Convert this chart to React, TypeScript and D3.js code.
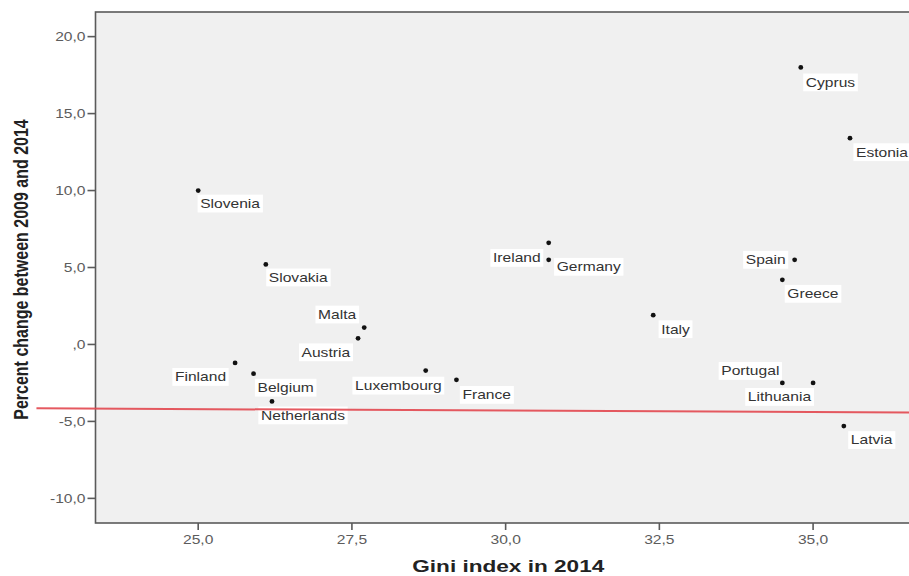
import React, { useEffect, useRef } from "react";
import * as d3 from "d3";

// Countries, Gini index in 2014 and percent change between 2009 and 2014
const countries = [
  "Slovenia", "Slovakia", "Malta", "Austria", "Finland", "Belgium", "Netherlands",
  "Luxembourg", "France", "Ireland", "Germany", "Italy", "Cyprus", "Estonia",
  "Spain", "Greece", "Portugal", "Lithuania", "Latvia",
];
const gini2014 = [
  25.0, 26.1, 27.7, 27.6, 25.6, 25.9, 26.2,
  28.7, 29.2, 30.7, 30.7, 32.4, 34.8, 35.6,
  34.7, 34.5, 34.5, 35.0, 35.5,
];
const pctChange = [
  10.0, 5.2, 1.1, 0.4, -1.2, -1.9, -3.7,
  -1.7, -2.3, 6.6, 5.5, 1.9, 18.0, 13.4,
  5.5, 4.2, -2.5, -2.5, -5.3,
];

// Axis ticks
const xTicks = [25, 27.5, 30, 32.5, 35];
const yTicks = [20, 15, 10, 5, 0, -5, -10];

// Red reference line end points (x in Gini units, y in percent)
const refLineX = [22.37, 36.56];
const refLineY = [-4.15, -4.42];

// Label placement relative to each point: anchor, horizontal and vertical offsets
const labelPlacement: Record<string, [string, number, number]> = {
  Slovenia: ["start", 2, 13],
  Slovakia: ["start", 3, 13],
  Malta: ["end", -8, -13],
  Austria: ["end", -8, 14],
  Finland: ["end", -9, 14],
  Belgium: ["start", 4, 14],
  Netherlands: ["start", -11, 14],
  Luxembourg: ["end", 16, 15],
  France: ["start", 6, 15],
  Ireland: ["end", -8, 15],
  Germany: ["start", 8, 7],
  Italy: ["start", 8, 14],
  Cyprus: ["start", 5, 15],
  Estonia: ["start", 6, 14],
  Spain: ["end", -9, 0],
  Greece: ["start", 5, 14],
  Portugal: ["end", -3, -12],
  Lithuania: ["end", -2, 14],
  Latvia: ["start", 7, 14],
};

const W = 909;
const H = 576;
const plot = { left: 95.5, right: 925, top: 12, bottom: 523 };
const STRETCH = 1.3;
const FONT = "'Liberation Sans', Arial, sans-serif";

// Comma decimal, plain hyphen for negatives, no leading zero for 0
const fmt = (v: number) => {
  const s = d3.format(".1f")(v).replace("\u2212", "-").replace(".", ",");
  return s.replace(/^(-?)0,/, "$1,");
};

export default function App() {
  const ref = useRef<SVGSVGElement | null>(null);

  useEffect(() => {
    const svg = d3.select(ref.current);
    svg.selectAll("*").remove();

    const x = d3.scaleLinear().domain([23.33, 36.82]).range([plot.left, plot.right]);
    const y = d3.scaleLinear().domain([-11.6, 21.6]).range([plot.bottom, plot.top]);

    svg.append("rect").attr("width", W).attr("height", H).attr("fill", "#ffffff");

    svg.append("rect")
      .attr("x", plot.left).attr("y", plot.top)
      .attr("width", plot.right - plot.left).attr("height", plot.bottom - plot.top)
      .attr("fill", "#f0f0f0")
      .attr("stroke", "#5a5a5a").attr("stroke-width", 1.6);

    // Y axis ticks and labels
    const yAxis = svg.append("g");
    yTicks.forEach((t) => {
      const yy = y(t);
      yAxis.append("line")
        .attr("x1", plot.left - 8).attr("x2", plot.left)
        .attr("y1", yy).attr("y2", yy)
        .attr("stroke", "#5a5a5a").attr("stroke-width", 1.6);
      yAxis.append("text")
        .attr("transform", `translate(${plot.left - 10},${yy}) scale(${STRETCH},1)`)
        .attr("text-anchor", "end").attr("dominant-baseline", "central")
        .attr("font-family", FONT).attr("font-size", 12).attr("fill", "#5c5c5c")
        .text(fmt(t));
    });

    // X axis ticks and labels
    const xAxis = svg.append("g");
    xTicks.forEach((t) => {
      const xx = x(t);
      xAxis.append("line")
        .attr("x1", xx).attr("x2", xx)
        .attr("y1", plot.bottom).attr("y2", plot.bottom + 7)
        .attr("stroke", "#5a5a5a").attr("stroke-width", 1.6);
      xAxis.append("text")
        .attr("transform", `translate(${xx},${plot.bottom + 17}) scale(${STRETCH},1)`)
        .attr("text-anchor", "middle").attr("dominant-baseline", "central")
        .attr("font-family", FONT).attr("font-size", 12).attr("fill", "#5c5c5c")
        .text(fmt(t));
    });

    // Axis titles
    svg.append("text")
      .attr("transform", `translate(${(plot.left + plot.right) / 2 - 2},${566}) scale(1.37,1)`)
      .attr("text-anchor", "middle").attr("dominant-baseline", "central")
      .attr("font-family", FONT).attr("font-size", 16.5).attr("font-weight", "bold")
      .attr("fill", "#222")
      .text("Gini index in 2014");

    svg.append("text")
      .attr("transform", `translate(21,${(plot.top + plot.bottom) / 2 + 2}) rotate(-90) scale(1,${STRETCH})`)
      .attr("text-anchor", "middle").attr("dominant-baseline", "central")
      .attr("font-family", FONT).attr("font-size", 16).attr("font-weight", "bold")
      .attr("fill", "#222")
      .text("Percent change between 2009 and 2014");

    // Points and labels
    const data = countries.map((c, i) => ({ name: c, gx: gini2014[i], pc: pctChange[i] }));
    const labels = svg.append("g");
    data.forEach((d) => {
      const [anchor, dx, dy] = labelPlacement[d.name];
      const g = labels.append("g")
        .attr("transform", `translate(${x(d.gx) + dx},${y(d.pc) + dy}) scale(${STRETCH},1)`);
      const txt = g.append("text")
        .attr("text-anchor", anchor).attr("dominant-baseline", "central")
        .attr("font-family", FONT).attr("font-size", 12).attr("fill", "#333")
        .text(d.name);
      const bb = (txt.node() as SVGTextElement).getBBox();
      g.insert("rect", "text")
        .attr("x", bb.x - 2).attr("y", bb.y - 2)
        .attr("width", bb.width + 4).attr("height", bb.height + 4)
        .attr("fill", "#ffffff");
    });

    svg.append("g").selectAll("circle")
      .data(data).join("circle")
      .attr("cx", (d) => x(d.gx)).attr("cy", (d) => y(d.pc))
      .attr("r", 2.4).attr("fill", "#111");

    // Red reference line
    svg.append("line")
      .attr("x1", x(refLineX[0])).attr("y1", y(refLineY[0]))
      .attr("x2", x(refLineX[1])).attr("y2", y(refLineY[1]))
      .attr("stroke", "#e2474f").attr("stroke-width", 2).attr("stroke-opacity", 0.9);
  }, []);

  return (
    <svg
      ref={ref}
      width={W}
      height={H}
      style={{ position: "absolute", left: 0, top: 0, display: "block" }}
    />
  );
}
